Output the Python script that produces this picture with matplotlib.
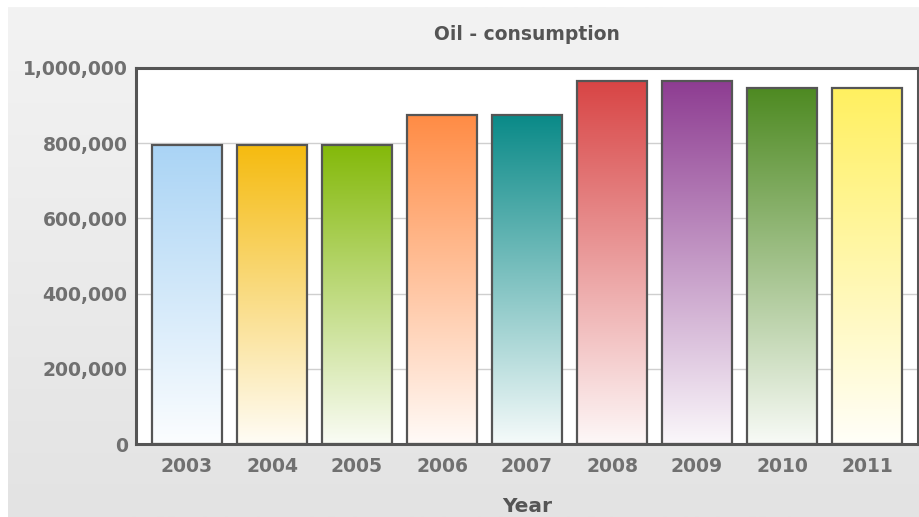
import numpy as np
import matplotlib

matplotlib.use("Agg")
import matplotlib.pyplot as plt
from matplotlib.colors import to_rgb
from matplotlib.patches import Rectangle
from matplotlib.ticker import FuncFormatter

YEARS = ["2003", "2004", "2005", "2006", "2007", "2008", "2009", "2010", "2011"]
CONSUMPTION = [795000, 795000, 795000, 875000, 875000, 965000, 965000, 946000, 946000]
BAR_COLORS = ["#aad4f5", "#f5bb10", "#84b90a", "#ff8c45", "#0a8a88",
              "#d84545", "#8e3d92", "#4e8a22", "#fff060"]

TEXT = "#707070"
EDGE = "#555555"

fig = plt.figure(figsize=(9.2, 5.17), dpi=100)
fig.patch.set_facecolor("white")

# soft grey panel behind the chart
bg = fig.add_axes([8 / 920, 0, 1 - 8 / 920, 1 - 7 / 517], zorder=-10)
shade = np.linspace(0, 1, 256)[:, None]
top, bot = np.array(to_rgb("#f3f3f3")), np.array(to_rgb("#e3e3e3"))
bg.imshow(top * (1 - shade[..., None]) + bot * shade[..., None], aspect="auto",
          extent=(0, 1, 0, 1))
bg.set_axis_off()

ax = fig.add_axes([136 / 920, 73 / 517, 782 / 920, 376 / 517])
ax.set_facecolor("white")
x = np.arange(len(YEARS))
width = 0.82

ax.set_yticks(np.arange(0, 1_000_001, 200_000))
ax.yaxis.set_major_formatter(FuncFormatter(lambda v, _: f"{int(v):,}"))
ax.grid(axis="y", color="#cfcfcf", lw=1)
ax.set_axisbelow(True)

for xi, val, col in zip(x, CONSUMPTION, BAR_COLORS):
    x0 = xi - width / 2
    rect = Rectangle((x0, 0), width, val, facecolor="none", edgecolor=EDGE,
                     lw=1.6, zorder=3)
    ax.add_patch(rect)
    # fade from the bar colour at the top to near white at the base
    t = np.linspace(0, 0.96, 200)[:, None, None]
    c = np.array(to_rgb(col))
    grad = c * (1 - t) + np.ones(3) * t
    im = ax.imshow(grad, aspect="auto", extent=(x0, x0 + width, 0, val),
                   zorder=2, interpolation="bilinear")
    clip = Rectangle((x0, 0), width, val, transform=ax.transData)
    im.set_clip_path(clip)

ax.set_xlim(-0.6, len(YEARS) - 0.4)
ax.set_ylim(0, 1_000_000)
ax.set_xticks(x)
ax.set_xticklabels(YEARS)
ax.tick_params(length=0, pad=9, labelsize=13.5, labelcolor=TEXT)
ax.tick_params(axis="y", pad=6)
for lbl in ax.get_xticklabels() + ax.get_yticklabels():
    lbl.set_fontweight("bold")
for side in ax.spines.values():
    side.set_color(EDGE)
    side.set_linewidth(2.2)

fig.text(527 / 920, 1 - 35 / 517, "Oil - consumption", ha="center", va="center",
         fontsize=13.5, fontweight="bold", color="#555555")
fig.text(527 / 920, 1 - 506 / 517, "Year", ha="center", va="center",
         fontsize=14.5, fontweight="bold", color="#555555")

fig.savefig("out.png", dpi=100)
